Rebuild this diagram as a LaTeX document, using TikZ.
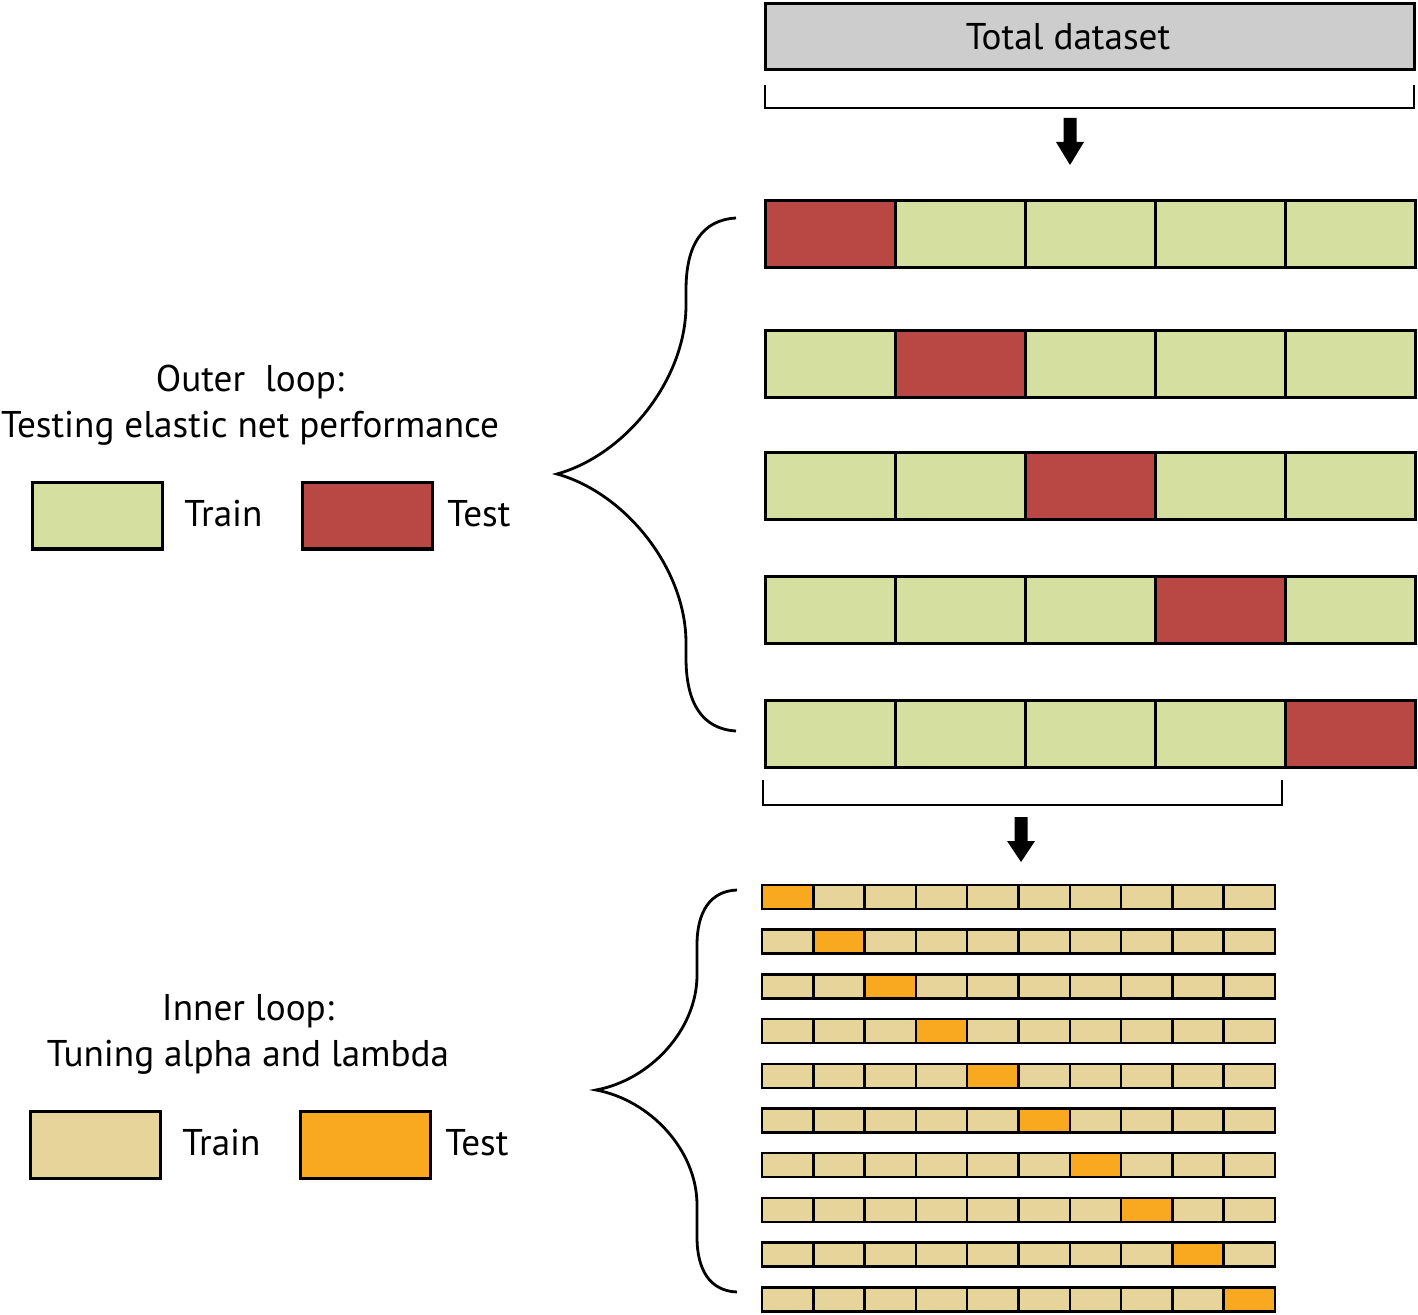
\documentclass[tikz,border=0pt]{standalone}
\usepackage{fontspec}
\setmainfont{PT Sans}
\usetikzlibrary{calc}
\definecolor{otrain}{HTML}{D4DFA0}
\definecolor{otest}{HTML}{B94744}
\definecolor{itrain}{HTML}{E6D49A}
\definecolor{itest}{HTML}{F9A91F}
\definecolor{totgray}{HTML}{CDCDCD}
\tikzset{
  ocell/.style={draw=black, line width=1.5pt},
  icell/.style={draw=black, line width=1.25pt},
  brace/.style={draw=black, line width=1.4pt},
  bracket/.style={draw=black, line width=1.4pt},
  blockarrow/.style={fill=black, draw=none},
  lbl/.style={font=\fontsize{18.6}{22}\selectfont, inner sep=0pt},
}
\begin{document}
\begin{tikzpicture}[x=0.5pt,y=-0.5pt]
\useasboundingbox (0,0) rectangle (1418,1315);
% total dataset
\draw[ocell, fill=totgray] (765,4) rectangle (1414,70);
\node[lbl, anchor=base] (tot) at (1068,50) {Total dataset};
\draw[bracket] (765,85) -- (765,108) -- (1414,108) -- (1414,85);
\coordinate (a1) at (1070,118);
\fill[blockarrow] ($(a1)+(-6.5,0)$) -- ++(13,0) -- ++(0,24) -- ++(7.5,0) -- ($(a1)+(0,47)$) -- ($(a1)+(-14,24)$) -- ($(a1)+(-6.5,24)$) -- cycle;
% outer rows
\foreach \r/\y in {1/201,2/331,3/453,4/576,5/700}{
  \foreach \c in {1,...,5}{
    \pgfmathsetmacro{\xa}{765+130*(\c-1)}
    \ifnum\c=\r
      \draw[ocell, fill=otest] (\xa,\y) rectangle ++(130,67);
    \else
      \draw[ocell, fill=otrain] (\xa,\y) rectangle ++(130,67);
    \fi
  }
}
% outer brace
\draw[brace] (736,218) .. controls (702,220) and (686,245) .. (686,290)
  -- (686,305) .. controls (686,380) and (625,455) .. (557,474)
  .. controls (625,493) and (686,568) .. (686,643)
  -- (686,658) .. controls (686,703) and (702,729) .. (736,731);
% bracket under outer
\draw[bracket] (763,780) -- (763,805) -- (1282,805) -- (1282,780);
\coordinate (a2) at (1021,817);
\fill[blockarrow] ($(a2)+(-6.5,0)$) -- ++(13,0) -- ++(0,24) -- ++(7.5,0) -- ($(a2)+(0,45)$) -- ($(a2)+(-14,24)$) -- ($(a2)+(-6.5,24)$) -- cycle;
% inner rows
\foreach \r in {1,...,10}{
  \pgfmathsetmacro{\y}{885+44.7*(\r-1)}
  \foreach \c in {1,...,10}{
    \pgfmathsetmacro{\xa}{762+51.3*(\c-1)}
    \ifnum\c=\r
      \draw[icell, fill=itest] (\xa,\y) rectangle ++(51.3,24);
    \else
      \draw[icell, fill=itrain] (\xa,\y) rectangle ++(51.3,24);
    \fi
  }
}
% inner brace
\draw[brace] (737,890) .. controls (710,891) and (697,912) .. (697,945)
  -- (697,975) .. controls (697,1030) and (650,1080) .. (596,1090)
  .. controls (650,1100) and (697,1150) .. (697,1205)
  -- (697,1237) .. controls (697,1270) and (710,1291) .. (737,1292);
% outer legend
\node[lbl, anchor=base] (ol) at (250,392) {Outer\ \ loop:};
\node[lbl, anchor=base] (ot) at (250,438) {Testing elastic net performance};
\draw[ocell, fill=otrain] (32,483) rectangle (162,549);
\node[lbl, anchor=base west] (otr) at (184,527) {Train};
\draw[ocell, fill=otest] (302,483) rectangle (432,549);
\node[lbl, anchor=base west] (ote) at (447,527) {Test};
% inner legend
\node[lbl, anchor=base] (il) at (248,1020) {Inner loop:};
\node[lbl, anchor=base] (it) at (248,1066) {Tuning alpha and lambda};
\draw[ocell, fill=itrain] (30,1111) rectangle (160,1178);
\node[lbl, anchor=base west] (itr) at (182,1155) {Train};
\draw[ocell, fill=itest] (300,1111) rectangle (430,1178);
\node[lbl, anchor=base west] (ite) at (445,1155) {Test};
\end{tikzpicture}
\end{document}
